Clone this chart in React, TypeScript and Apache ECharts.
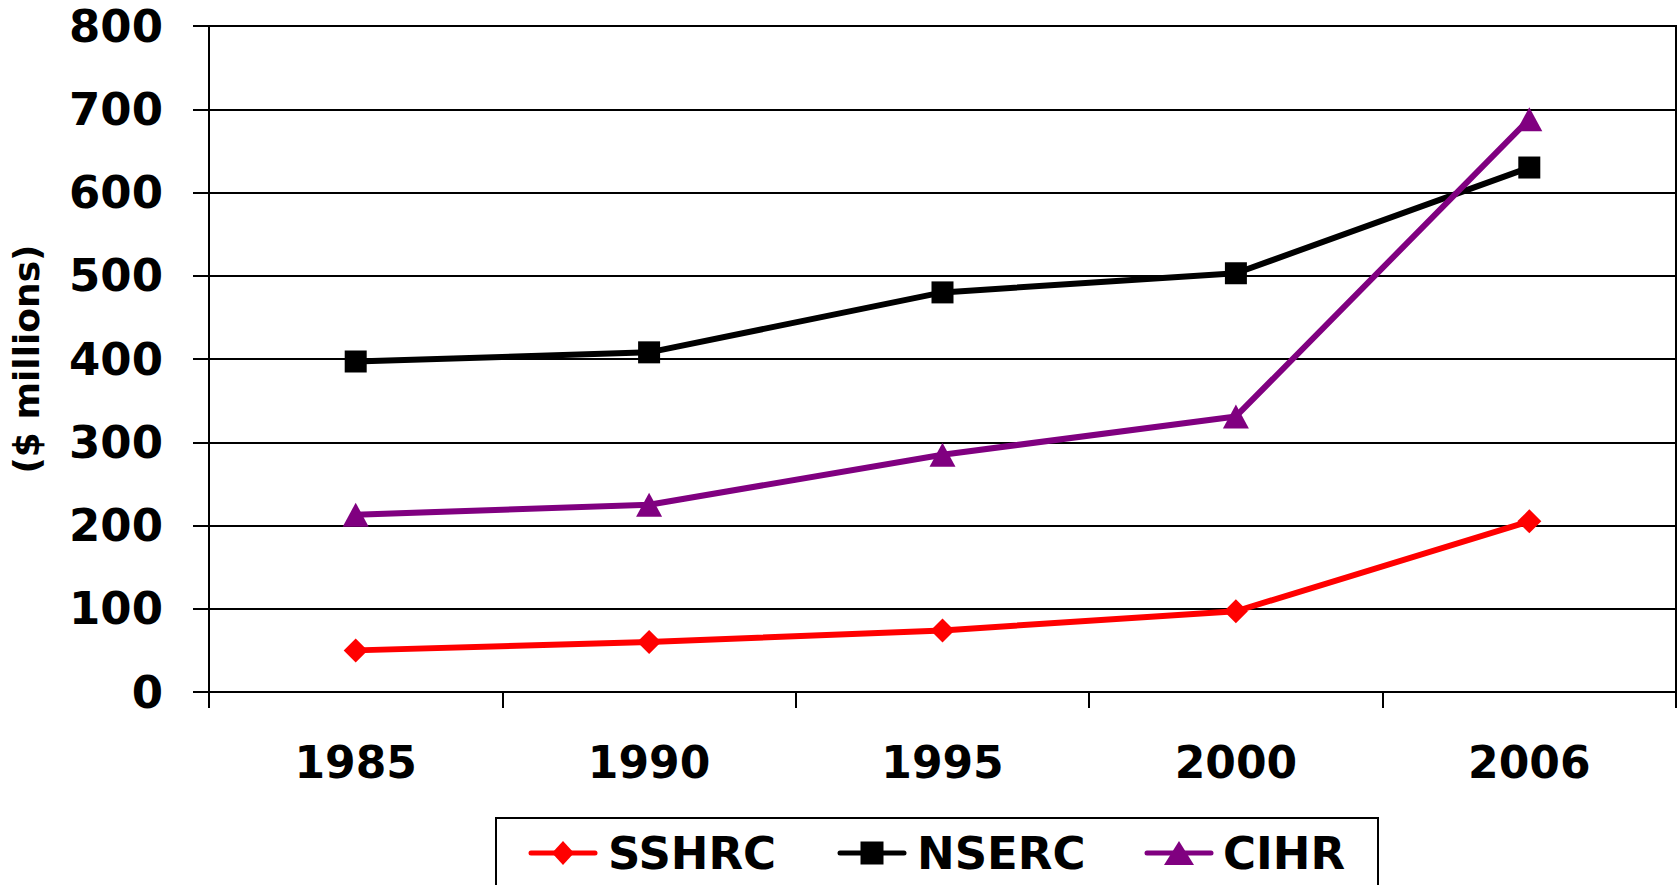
import React, { useEffect, useRef } from "react";
import * as echarts from "echarts";

const years = ["1985", "1990", "1995", "2000", "2006"];
const sshrc = [50, 60, 74, 97, 205];
const nserc = [397, 408, 480, 503, 630];
const cihr = [213, 225, 285, 331, 688];
const yTicks = { min: 0, max: 800, interval: 100 };
const seriesNames = ["SSHRC", "NSERC", "CIHR"];
const seriesColors = ["#FF0000", "#000000", "#800080"];

const FONT = "'DejaVu Sans', Verdana, sans-serif";

function legendIcon(kind: number, cx: number, cy: number, color: string): any[] {
  const line = {
    type: "line",
    shape: { x1: cx - 32, y1: cy, x2: cx + 32, y2: cy },
    style: { stroke: color, lineWidth: 5, lineCap: "round" },
  };
  let mark: any;
  if (kind === 0) {
    mark = {
      type: "polygon",
      shape: { points: [[cx, cy - 12], [cx + 11, cy], [cx, cy + 12], [cx - 11, cy]] },
      style: { fill: color },
    };
  } else if (kind === 1) {
    mark = { type: "rect", shape: { x: cx - 11.5, y: cy - 11.5, width: 23, height: 23 }, style: { fill: color } };
  } else {
    mark = {
      type: "polygon",
      shape: { points: [[cx, cy - 12], [cx + 15, cy + 12], [cx - 15, cy + 12]] },
      style: { fill: color },
    };
  }
  return [line, mark];
}

export default function App() {
  const ref = useRef<HTMLDivElement>(null);
  useEffect(() => {
    document.body.style.margin = "0";
    const chart = echarts.init(ref.current!, null, { renderer: "svg" });
    const mk = (name: string, data: number[], color: string, symbol: string, size: number | number[]) => ({
      name,
      type: "line",
      data,
      symbol,
      symbolSize: size,
      showSymbol: true,
      lineStyle: { color, width: 6 },
      itemStyle: { color, borderWidth: 0 },
      z: 3,
    });
    const iconX = [563, 872, 1179];
    const textX = [608, 917, 1223];
    const legendEls: any[] = [
      {
        type: "rect",
        shape: { x: 496, y: 818, width: 882, height: 100 },
        style: { fill: "#fff", stroke: "#000", lineWidth: 2 },
      },
    ];
    seriesNames.forEach((n, i) => {
      legendEls.push(...legendIcon(i, iconX[i], 853, seriesColors[i]));
      legendEls.push({
        type: "text",
        x: textX[i],
        y: 853,
        style: {
          text: n,
          x: 0,
          y: 0,
          fill: "#000",
          font: "bold 45px 'DejaVu Sans', Verdana, sans-serif",
          textAlign: "left",
          textVerticalAlign: "middle",
        },
      });
    });
    chart.setOption({
      animation: false,
      backgroundColor: "#ffffff",
      grid: {
        left: 205,
        right: 2,
        top: 26,
        bottom: 193,
        show: true,
        borderColor: "#000",
        borderWidth: 2,
        backgroundColor: "transparent",
      },
      graphic: legendEls,
      xAxis: {
        type: "category",
        data: years,
        boundaryGap: true,
        axisLine: { lineStyle: { color: "#000", width: 2 } },
        axisTick: { show: true, length: 16, lineStyle: { color: "#000", width: 2 } },
        axisLabel: { fontFamily: FONT, fontWeight: "bold", fontSize: 44, color: "#000", margin: 48 },
      },
      yAxis: {
        type: "value",
        min: yTicks.min,
        max: yTicks.max,
        interval: yTicks.interval,
        name: "($ millions)",
        nameLocation: "middle",
        nameGap: 165,
        nameRotate: 90,
        nameTextStyle: { fontFamily: FONT, fontWeight: "bold", fontSize: 36, color: "#000" },
        axisLine: { show: true, lineStyle: { color: "#000", width: 2 } },
        axisTick: { show: true, length: 16, lineStyle: { color: "#000", width: 2 } },
        splitLine: { show: true, lineStyle: { color: "#000", width: 2 } },
        axisLabel: { fontFamily: FONT, fontWeight: "bold", fontSize: 45, color: "#000", margin: 46 },
      },
      series: [
        mk(seriesNames[0], sshrc, seriesColors[0], "diamond", 24),
        mk(seriesNames[1], nserc, seriesColors[1], "rect", 22),
        mk(seriesNames[2], cihr, seriesColors[2], "triangle", [26, 24]),
      ],
    });
    return () => chart.dispose();
  }, []);
  return <div ref={ref} style={{ width: 1678, height: 885 }} />;
}
